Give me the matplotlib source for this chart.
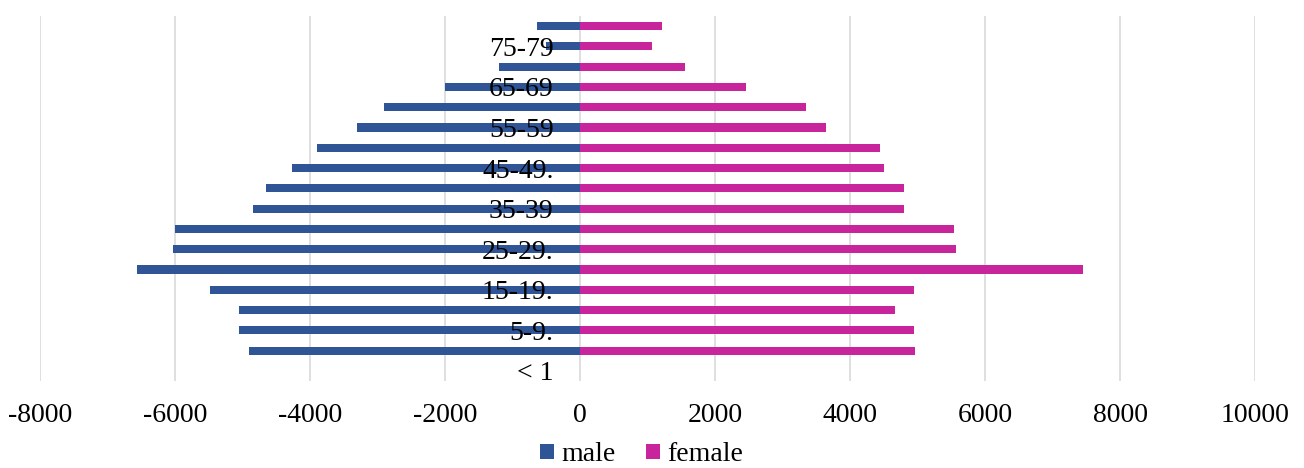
import matplotlib
matplotlib.use("Agg")
import matplotlib.pyplot as plt
from matplotlib.patches import Patch

# ---- data ----
age_groups = ["< 1", "1-4", "5-9.", "10-14", "15-19.", "20-24", "25-29.", "30-34",
              "35-39", "40-44", "45-49.", "50-54", "55-59", "60-64", "65-69",
              "70-74", "75-79", "80+"]
shown_labels = ["< 1", "", "5-9.", "", "15-19.", "", "25-29.", "", "35-39", "",
                "45-49.", "", "55-59", "", "65-69", "", "75-79", ""]
male = [0, -4900, -5050, -5050, -5480, -6560, -6030, -6000, -4840, -4650,
        -4260, -3900, -3310, -2900, -2000, -1200, -500, -630]
female = [0, 4960, 4945, 4660, 4945, 7450, 5570, 5540, 4800, 4800,
          4500, 4440, 3650, 3355, 2465, 1560, 1070, 1220]
x_ticks = [-8000, -6000, -4000, -2000, 0, 2000, 4000, 6000, 8000, 10000]

male_color = "#2F5597"
female_color = "#C8249B"

plt.rcParams["font.family"] = ["Liberation Serif", "DejaVu Serif"]

fig = plt.figure(figsize=(13.04, 4.68), dpi=100)
ax = fig.add_axes([40 / 1304, 1 - 381 / 468, (1255 - 40) / 1304, (381 - 16) / 468])

for s in ax.spines.values():
    s.set_visible(False)
ax.spines["left"].set_position(("data", 0))

y = list(range(len(age_groups)))
ax.barh(y, male, height=0.4, color=male_color, zorder=1, label="male")
ax.barh(y, female, height=0.4, color=female_color, zorder=1, label="female")

ax.set_xlim(-8000, 10000)
ax.set_ylim(-0.5, len(age_groups) - 0.5)
ax.set_xticks(x_ticks)
ax.set_xticklabels([str(v) for v in x_ticks])
ax.set_yticks(y)
ax.set_yticklabels(shown_labels)

ax.grid(axis="x", color="#D9D9D9", linewidth=1.2)
ax.grid(axis="y", visible=False)
ax.set_axisbelow(True)
ax.yaxis.set_zorder(5)

ax.tick_params(axis="x", length=0, pad=16, labelsize=20)
ax.tick_params(axis="y", length=0, pad=19, labelsize=20, labelcolor="black")

handles = [Patch(facecolor=male_color, label="male"),
           Patch(facecolor=female_color, label="female")]
fig.legend(handles=handles, loc="center", bbox_to_anchor=(0.492, 0.028), ncol=2,
           frameon=False, fontsize=20, handlelength=0.5, handleheight=0.5,
           handletextpad=0.25, columnspacing=1.1, borderpad=0)

fig.savefig("out.png", dpi=100, facecolor="white")
